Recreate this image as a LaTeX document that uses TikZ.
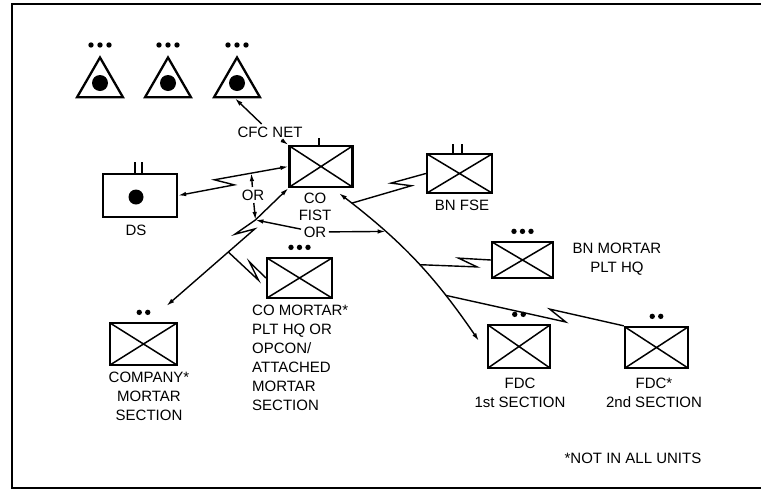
\documentclass[tikz,border=0pt]{standalone}
\usepackage{fontspec}
\setmainfont{Liberation Sans}
\usetikzlibrary{arrows.meta, calc, shapes.geometric}
\tikzset{
  rim/.style={line width=1.6pt},
  unit/.style={rectangle,draw,line width=2.3pt,inner sep=0pt,minimum width=63pt,minimum height=41pt,
    path picture={\draw[line width=1.5pt] (path picture bounding box.north west) -- (path picture bounding box.south east)
      (path picture bounding box.north east) -- (path picture bounding box.south west);}},
  post/.style={rectangle,draw,line width=2.3pt,inner sep=0pt,minimum width=74pt,minimum height=43pt},
  obs/.style={regular polygon,regular polygon sides=3,draw,line width=2.3pt,inner sep=0pt,minimum size=53pt},
  staff/.style={line width=1.8pt},
  lbl/.style={align=center,inner sep=0pt,font=\fontsize{15}{19}\selectfont},
  tag/.style={lbl,anchor=north},
  ors/.style={lbl,inner sep=2.5pt},
  link/.style={line width=1.4pt},
  line/.style={link,-{Latex[length=8pt,width=4.5pt]}},
  both/.style={link,{Latex[length=8pt,width=4.5pt]}-{Latex[length=8pt,width=4.5pt]}},
  bolt/.style={to path={-- ($(\tikztostart)!#1!(\tikztotarget)!4pt!-90:(\tikztotarget)$)
    -- ($(\tikztostart)!#1!(\tikztotarget)!-18pt!(\tikztotarget)!6pt!90:(\tikztotarget)$)
    -- (\tikztotarget) \tikztonodes}},
  bolt/.default=.5
}
\begin{document}
\begin{tikzpicture}[x=1pt,y=-1pt]
\useasboundingbox (0,0) rectangle (761,491);
\draw[rim] (761,4) -- (12,4) -- (12,488) -- (761,488);
% observers
\foreach \i/\x in {1/100,2/168,3/237}{
  \node[obs] (t\i) at (\x,84) {};
  \fill (t\i.center) ++(0,-1) circle (8pt);
  \foreach \d in {-1,0,1} \fill (\x+\d*9,45) circle (2.7pt);
}
% units
\node[unit] (cofist) at (321,166.5) {};
\node[post] (ds) at (140,195.5) {};
\node[unit,minimum width=65pt,minimum height=39pt] (bnfse) at (459.5,173.5) {};
\node[unit,minimum width=61pt,minimum height=36pt] (bnmtr) at (522.5,260) {};
\node[unit,minimum width=65pt,minimum height=40pt] (comtr) at (299.5,278) {};
\node[unit,minimum width=67pt,minimum height=42pt] (cymtr) at (143.5,344) {};
\node[unit,minimum width=62pt,minimum height=43pt] (fdca) at (519,346.5) {};
\node[unit,minimum width=63pt,minimum height=41pt] (fdcb) at (656.5,347.5) {};
\fill (ds.center) ++(-4,1.5) circle (7.5pt);
% staffs and dots
\draw[staff] (cofist.north) ++(-2,0) -- ++(0,-7);
\foreach \d in {-5,2} \draw[staff] (ds.north) ++(\d,0) -- ++(0,-11);
\foreach \d in {-6.5,2.5} \draw[staff] (bnfse.north) ++(\d,0) -- ++(0,-9);
\foreach \n/\k in {comtr/3,bnmtr/3,cymtr/2,fdca/2,fdcb/2}{
  \foreach \j in {1,...,\k} \fill (\n.north) ++({(\j-(\k+1)/2)*8.5},-9.5) circle (2.7pt);
}
% labels
\node[ors] (cfc) at (270,132) {CFC NET};
\node[tag,font=\fontsize{15}{17}\selectfont] (cofistl) at (315,192.6) {CO\\FIST};
\node[ors] (orA) at (253,195) {OR};
\node[ors] (orB) at (315,232) {OR};
\node[lbl] (dsl) at (136,230) {DS};
\node[lbl] (bnfsel) at (462,205) {BN FSE};
\node[tag] (bnmtrl) at (617,242.6) {BN MORTAR\\PLT HQ};
\node[tag,align=left,anchor=north west] (comtrl) at (252,304.6) {CO MORTAR*\\PLT HQ OR\\OPCON/\\ATTACHED\\MORTAR\\SECTION};
\node[tag] (cymtrl) at (149,371.6) {COMPANY*\\MORTAR\\SECTION};
\node[tag] (fdcal) at (520,377.6) {FDC\\1st SECTION};
\node[tag] (fdcbl) at (654,377.6) {FDC*\\2nd SECTION};
\node[lbl] (note) at (633,458) {*NOT IN ALL UNITS};
% connectors
\draw[line] (cfc) -- ([xshift=-2pt]t3.south);
\draw[line] (cfc) -- (cofist.north west);
\draw[both] (ds.east) to[bolt=.5] coordinate[pos=.5] (dsln) (cofist.west);
\draw[line] (orA) -- (dsln);
\coordinate (cyend) at ([shift={(23,-16)}]cymtr.north);
\coordinate (jl) at ($(cofist.south west)!.27!(cyend)$);
\draw[line] (jl) -- (cofist.south west);
\draw[line] (jl) to[bolt=.2] coordinate[pos=.3] (jco) (cyend);
\draw[line] (orA) -- (jl);
\draw[line] (orB) -- (jl);
\draw[both] ([shift={(18,5)}]cofist.south) to[bend left=9] coordinate[pos=.07] (jfse) coordinate[pos=.28] (jr)
  coordinate[pos=.53] (jbnm) coordinate[pos=.74] (jfdc) ([shift={(-8,17)}]fdca.north west);
\draw[line] (orB) -- (jr);
\draw[link] (bnfse.west) to[bolt=.45] (jfse);
\draw[link] (bnmtr.west) to[bolt=.45] (jbnm);
\draw[link] (fdcb.north west) to[bolt=.42] (jfdc);
\draw[link] (comtr.west) to[bolt=.5] (jco);
\end{tikzpicture}
\end{document}
